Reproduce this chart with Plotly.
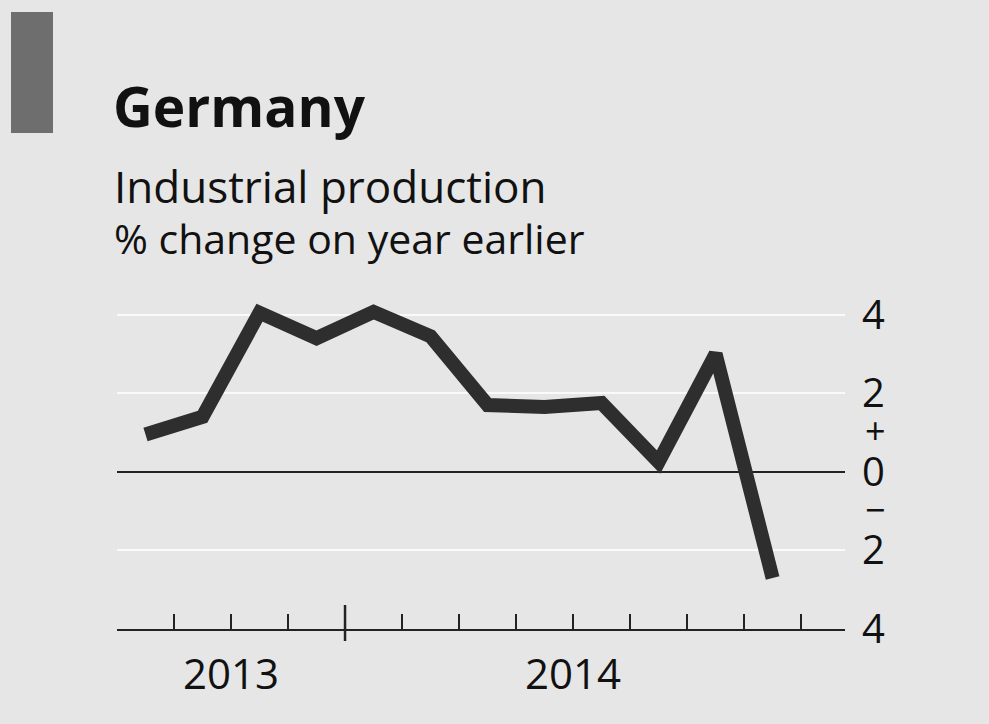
import plotly.graph_objects as go

# ---- data ----
months = ["Sep 2013", "Oct 2013", "Nov 2013", "Dec 2013", "Jan 2014", "Feb 2014",
          "Mar 2014", "Apr 2014", "May 2014", "Jun 2014", "Jul 2014", "Aug 2014"]
values = [0.95, 1.4, 4.05, 3.4, 4.07, 3.45, 1.7, 1.65, 1.75, 0.25, 3.0, -2.7]
y_tickvals = [-4, -2, 0, 2, 4]
y_ticktext = ["4", "2", "0", "2", "4"]
year_labels = ["2013", "2014"]

title = "Germany"
subtitle1 = "Industrial production"
subtitle2 = "% change on year earlier"

# ---- geometry ----
W, H = 989, 724
ML, MR, MT, MB = 117, 144, 295, 95
PW, PH = W - ML - MR, H - MT - MB
BG = "#e6e6e6"
FONT = "Open Sans"

def px_x(px):
    return (px - ML) / PW

def px_y(py):
    return (H - MB - py) / PH

x_idx = list(range(len(months)))
n_months = len(months)
x_min, x_max = -0.5, n_months + 0.27
boundaries = [i - 0.5 for i in range(n_months + 1)]

# year spans (visible) for labels and year-start tick
years = [m.split()[1] for m in months]
year_start_idx = [i for i in range(1, n_months) if years[i] != years[i - 1]]
spans = []
start = -0.5
for ys in year_start_idx:
    spans.append((start, ys - 0.5))
    start = ys - 0.5
spans.append((start, n_months - 0.5))

fig = go.Figure()
fig.add_trace(go.Scatter(
    x=x_idx, y=values, mode="lines",
    line=dict(color="#2e2e2e", width=14),
    hoverinfo="skip", showlegend=False,
))

annotations = []
# title block
annotations.append(dict(text="<b>" + title + "</b>", x=px_x(111), y=px_y(105),
                        xref="paper", yref="paper", xanchor="left", yanchor="middle",
                        showarrow=False, font=dict(family=FONT, size=55, color="#111")))
annotations.append(dict(text=subtitle1, x=px_x(112), y=px_y(186),
                        xref="paper", yref="paper", xanchor="left", yanchor="middle",
                        showarrow=False, font=dict(family=FONT, size=44, color="#111")))
annotations.append(dict(text=subtitle2, x=px_x(112), y=px_y(238),
                        xref="paper", yref="paper", xanchor="left", yanchor="middle",
                        showarrow=False, font=dict(family=FONT, size=41, color="#111")))
# year labels
for (a, b), lab in zip(spans, year_labels):
    annotations.append(dict(text=lab, x=(a + b) / 2, y=px_y(672), xref="x", yref="paper",
                            xanchor="center", yanchor="middle", showarrow=False,
                            font=dict(family=FONT, size=42, color="#111")))
# + / - signs on the y axis
annotations.append(dict(text="+", x=px_x(875), y=1.05, xref="paper", yref="y",
                        xanchor="center", yanchor="middle", showarrow=False,
                        font=dict(family=FONT, size=36, color="#111")))
annotations.append(dict(text="\u2212", x=px_x(875), y=-0.95, xref="paper", yref="y",
                        xanchor="center", yanchor="middle", showarrow=False,
                        font=dict(family=FONT, size=36, color="#111")))

shapes = []
# grey tab
shapes.append(dict(type="rect", xref="paper", yref="paper",
                   x0=px_x(11), x1=px_x(53), y0=px_y(133), y1=px_y(12),
                   fillcolor="#6e6e6e", line=dict(width=0)))
# year-start tick crossing the axis
for ys in year_start_idx:
    shapes.append(dict(type="line", xref="x", yref="paper",
                       x0=ys - 0.5, x1=ys - 0.5, y0=px_y(641), y1=px_y(605),
                       line=dict(color="#222", width=2.5)))

fig.update_layout(
    width=W, height=H,
    margin=dict(l=ML, r=MR, t=MT, b=MB),
    paper_bgcolor=BG, plot_bgcolor=BG,
    showlegend=False,
    annotations=annotations,
    shapes=shapes,
    xaxis=dict(range=[x_min, x_max], tickmode="array", tickvals=boundaries,
               ticktext=["" for _ in boundaries], ticks="inside", ticklen=15,
               tickwidth=2, tickcolor="#222", showline=True, linecolor="#222",
               linewidth=2, showgrid=False, zeroline=False, fixedrange=True),
    yaxis=dict(range=[-4, 4.5], side="right", tickmode="array", tickvals=y_tickvals,
               ticktext=y_ticktext, ticks="", showgrid=True, gridcolor="#fafafa",
               gridwidth=2, zeroline=True, zerolinecolor="#222", zerolinewidth=1.5,
               showline=False, ticklabelstandoff=16,
               tickfont=dict(family=FONT, size=40, color="#111"), fixedrange=True),
)

fig.write_html("out.html", config=dict(displayModeBar=False),
               post_script="document.body.style.margin='0';document.body.style.background='%s';" % BG)
